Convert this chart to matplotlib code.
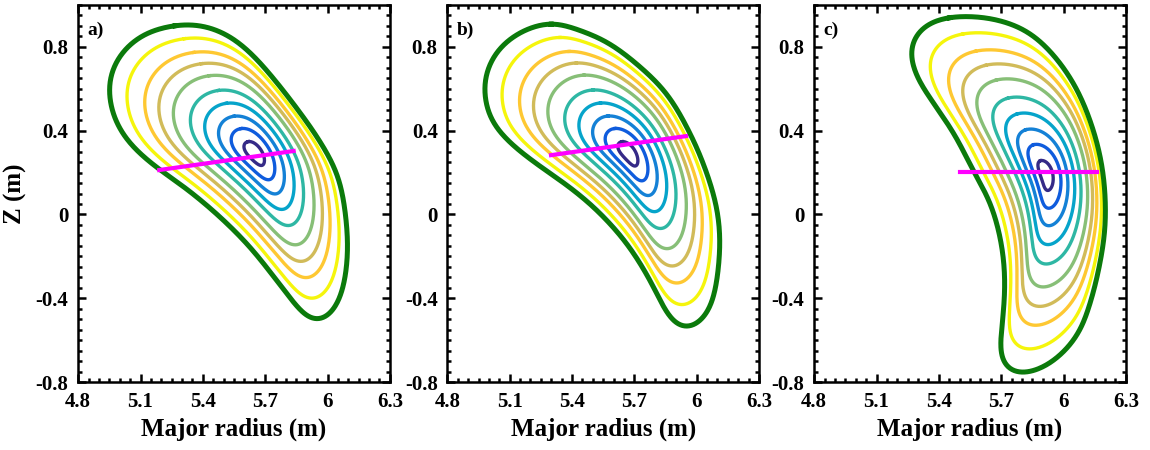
import numpy as np
import matplotlib.pyplot as plt
from matplotlib.ticker import MultipleLocator

# outer (green) boundary of each cross-section, metres
r_a = [5.266, 5.122, 5.018, 4.961, 4.945, 4.969, 5.033, 5.122, 5.194, 5.329,
       5.482, 5.626, 5.754, 5.866, 5.938, 6.018, 6.074, 6.098, 6.082, 6.045,
       5.960, 5.858, 5.746, 5.633, 5.521, 5.394]
z_a = [0.904, 0.865, 0.785, 0.690, 0.594, 0.467, 0.355, 0.268, 0.212, 0.117,
       -0.011, -0.154, -0.313, -0.457, -0.520, -0.480, -0.361, -0.170, 0.040, 0.200,
       0.355, 0.499, 0.642, 0.769, 0.857, 0.904]

r_b = [5.300, 5.152, 5.040, 4.984, 4.976, 5.008, 5.104, 5.248, 5.376, 5.520,
       5.664, 5.776, 5.856, 5.928, 6.016, 6.080, 6.112, 6.098, 6.032, 5.952,
       5.856, 5.728, 5.568, 5.408]
z_b = [0.918, 0.873, 0.785, 0.674, 0.578, 0.451, 0.339, 0.228, 0.140, 0.021,
       -0.138, -0.314, -0.473, -0.553, -0.521, -0.409, -0.170, 0.030, 0.244, 0.419,
       0.578, 0.705, 0.825, 0.889]

r_c = [5.451, 5.339, 5.267, 5.259, 5.299, 5.387, 5.483, 5.563, 5.643, 5.692,
       5.716, 5.716, 5.700, 5.692, 5.740, 5.788, 5.884, 5.980, 6.076, 6.120,
       6.155, 6.195, 6.203, 6.187, 6.139, 6.059, 5.947, 5.819, 5.659, 5.531]
z_c = [0.944, 0.913, 0.833, 0.753, 0.642, 0.514, 0.371, 0.212, 0.069, -0.090,
       -0.250, -0.409, -0.568, -0.695, -0.759, -0.767, -0.743, -0.680, -0.568, -0.450,
       -0.330, -0.123, 0.037, 0.228, 0.419, 0.610, 0.769, 0.881, 0.936, 0.947]

# magnetic axis (centre of the innermost contour)
axis_a = (5.650, 0.292)
axis_b = (5.672, 0.291)
axis_c = (5.915, 0.188)

# magenta chords: (R1, R2), (Z1, Z2)
chord_a = ([5.19, 5.837], [0.212, 0.303])
chord_b = ([5.299, 5.949], [0.283, 0.374])
chord_c = ([5.504, 6.163], [0.201, 0.201])

# normalised minor radius of each drawn surface, inner -> outer
levels = [0.09, 0.19, 0.285, 0.385, 0.485, 0.60, 0.695, 0.785, 0.895, 1.0]
colors = ['#352a87', '#0f5cdd', '#1481d6', '#06a4ca', '#2eb7a4',
          '#87bf77', '#d1bb59', '#fec832', '#f5f50c', '#0b7a0b']
labels = ['a)', 'b)', 'c)']

N = 600


def closed_spline(r, z, per_seg=30):
    # periodic Catmull-Rom through the read points
    p = np.column_stack([r, z])
    out = []
    t = np.linspace(0, 1, per_seg, endpoint=False)[:, None]
    k = len(p)
    for i in range(k):
        p0, p1, p2, p3 = p[i - 1], p[i], p[(i + 1) % k], p[(i + 2) % k]
        out.append(0.5 * (2 * p1 + (-p0 + p2) * t
                          + (2 * p0 - 5 * p1 + 4 * p2 - p3) * t ** 2
                          + (-p0 + 3 * p1 - 3 * p2 + p3) * t ** 3))
    return np.vstack(out)


def boundary_modes(r, z):
    c = closed_spline(r, z)
    c = np.vstack([c, c[:1]])
    s = np.r_[0, np.cumsum(np.hypot(*np.diff(c, axis=0).T))]
    t = np.linspace(0, s[-1], N, endpoint=False)
    return np.fft.rfft(np.interp(t, s, c[:, 0])), np.fft.rfft(np.interp(t, s, c[:, 1]))


def surface(fr, fz, axis, rho):
    m = np.arange(len(fr))
    w = rho ** (1 + 0.3 * (m - 1)) * np.exp(-(m / 14.0) ** 2)
    gr = fr * w
    gz = fz * w
    gr[0] = (axis[0] + (fr[0].real / N - axis[0]) * rho ** 2) * N
    gz[0] = (axis[1] + (fz[0].real / N - axis[1]) * rho ** 2) * N
    R = np.fft.irfft(gr, N)
    Z = np.fft.irfft(gz, N)
    return np.r_[R, R[0]], np.r_[Z, Z[0]]


plt.rcParams['font.family'] = ['Liberation Serif', 'DejaVu Serif']
plt.rcParams['font.weight'] = 'bold'

fig = plt.figure(figsize=(11.5, 4.5), dpi=100)
lefts = [0.068, 0.389, 0.708]
panels = [(r_a, z_a, axis_a, chord_a), (r_b, z_b, axis_b, chord_b),
          (r_c, z_c, axis_c, chord_c)]

for i, (r, z, axis, chord) in enumerate(panels):
    ax = fig.add_axes([lefts[i], 0.151, 0.271, 0.838])
    fr, fz = boundary_modes(r, z)
    for lev, col in zip(levels, colors):
        R, Z = surface(fr, fz, axis, lev)
        lw = 3.6 if lev == 1.0 else 2.4
        ax.plot(R, Z, color=col, lw=lw)
    ax.plot(chord[0], chord[1], color='#ff00ff', lw=3.0)

    ax.set_xlim(4.8, 6.3)
    ax.set_ylim(-0.8, 1.0)
    ax.set_xticks([4.8, 5.1, 5.4, 5.7, 6.0, 6.3])
    ax.set_xticklabels(['4.8', '5.1', '5.4', '5.7', '6', '6.3'])
    ax.set_yticks([-0.8, -0.4, 0, 0.4, 0.8])
    ax.set_yticklabels(['-0.8', '-0.4', '0', '0.4', '0.8'])
    ax.xaxis.set_minor_locator(MultipleLocator(0.05))
    ax.yaxis.set_minor_locator(MultipleLocator(0.05))
    ax.tick_params(which='both', direction='in', top=True, right=True,
                   labelsize=15, width=1.8)
    ax.tick_params(which='major', length=6, pad=7)
    ax.tick_params(which='minor', length=3)
    for sp in ax.spines.values():
        sp.set_linewidth(1.8)
    ax.set_xlabel('Major radius (m)', fontsize=18, fontweight='bold', labelpad=4)
    if i == 0:
        ax.set_ylabel('Z (m)', fontsize=18, fontweight='bold', labelpad=6)
    ax.text(0.03, 0.955, labels[i], transform=ax.transAxes, fontsize=14,
            fontweight='bold', va='top', ha='left')

fig.savefig('out.png', dpi=100)
